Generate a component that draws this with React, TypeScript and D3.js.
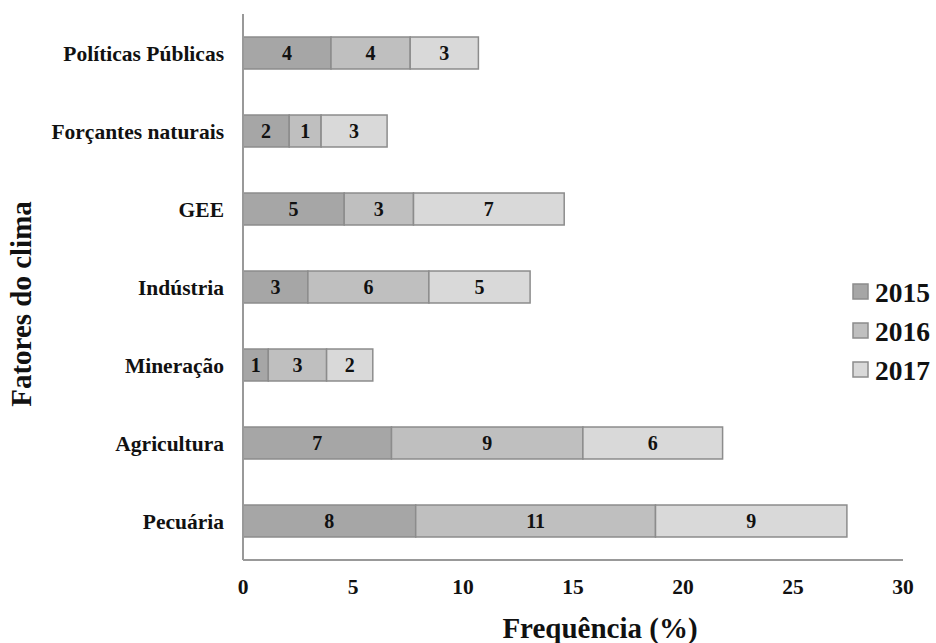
import React from "react";
import * as d3 from "d3";

const categories = ["Políticas Públicas", "Forçantes naturais", "GEE", "Indústria", "Mineração", "Agricultura", "Pecuária"];
const years = ["2015", "2016", "2017"];
const values2015 = [4.0, 2.1, 4.6, 2.95, 1.15, 6.75, 7.85];
const values2016 = [3.6, 1.45, 3.15, 5.5, 2.65, 8.7, 10.9];
const values2017 = [3.1, 3.0, 6.85, 4.6, 2.1, 6.35, 8.7];
const xTicks = [0, 5, 10, 15, 20, 25, 30];
const colors = ["#a6a6a6", "#bfbfbf", "#d9d9d9"];

const W = 936, H = 643;
const FONT = "'Liberation Serif', 'Times New Roman', serif";

export default function App() {
  const x = d3.scaleLinear().domain([0, 30]).range([243, 903]);
  const y = d3.scaleBand().domain(categories).range([14, 560]).paddingInner(0.59).paddingOuter(0.295);
  const rows = categories.map((c, i) => ({ cat: c, "2015": values2015[i], "2016": values2016[i], "2017": values2017[i] }));
  const stacked = d3.stack<any>().keys(years)(rows);
  return (
    <svg width={W} height={H} style={{ position: "absolute", left: 0, top: 0, background: "#fff" }} fontFamily={FONT}>
      {stacked.map((s, si) => (
        <g key={s.key}>
          {s.map((d, i) => (
            <g key={i}>
              <rect x={x(d[0])} y={y(categories[i])} width={x(d[1]) - x(d[0])} height={y.bandwidth()}
                fill={colors[si]} stroke="#8c8c8c" strokeWidth={1.5} />
              <text x={(x(d[0]) + x(d[1])) / 2} y={y(categories[i])! + y.bandwidth() / 2} dy="0.35em"
                textAnchor="middle" fontWeight="bold" fontSize={20} fill="#111">{Math.round(d[1] - d[0] + 1e-9)}</text>
            </g>
          ))}
        </g>
      ))}
      <line x1={243} x2={243} y1={14} y2={560} stroke="#999" strokeWidth={2} />
      <line x1={243} x2={903} y1={560} y2={560} stroke="#999" strokeWidth={2} />
      {xTicks.map(t => (
        <text key={t} x={x(t)} y={594} textAnchor="middle" fontWeight="bold" fontSize={21.5} fill="#111">{t}</text>
      ))}
      {categories.map(c => (
        <text key={c} x={224} y={y(c)! + y.bandwidth() / 2} dy="0.35em" textAnchor="end" fontWeight="bold" fontSize={21.5} fill="#111">{c}</text>
      ))}
      <text x={600} y={638} textAnchor="middle" fontWeight="bold" fontSize={29} fill="#111">Frequência (%)</text>
      <text transform={`translate(31,304) rotate(-90)`} textAnchor="middle" fontWeight="bold" fontSize={29} fill="#111">Fatores do clima</text>
      {years.map((yr, i) => (
        <g key={yr}>
          <rect x={853} y={284 + i * 39} width={15} height={15} fill={colors[i]} stroke="#8c8c8c" strokeWidth={1.5} />
          <text x={875} y={292 + i * 39} dy="0.35em" fontWeight="bold" fontSize={27.5} fill="#111">{yr}</text>
        </g>
      ))}
    </svg>
  );
}
